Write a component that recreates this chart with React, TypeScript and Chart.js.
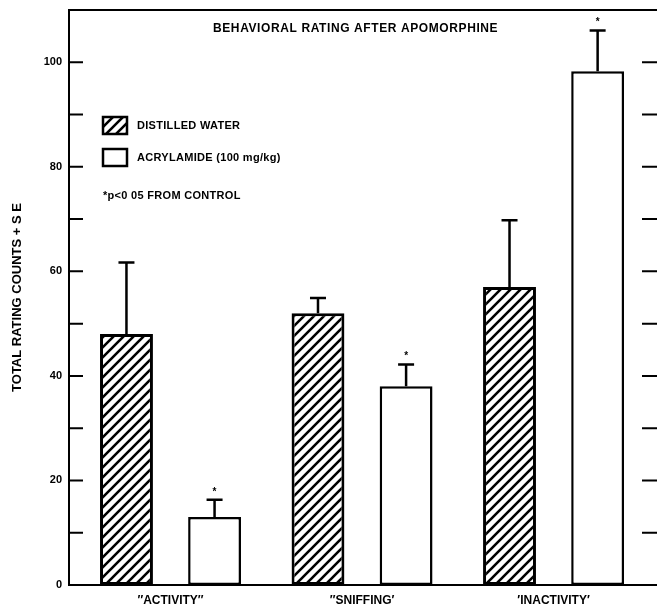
import React, { useEffect, useRef } from "react";
import { Chart, registerables } from "chart.js";

Chart.register(...registerables);

const categories = ["\u2033ACTIVITY\u2033", "\u2033SNIFFING\u2032", "\u2032INACTIVITY\u2032"];
const waterValues = [48, 52, 57];
const waterErrors = [13.7, 2.9, 12.8];
const acrylValues = [13, 38, 98.3];
const acrylErrors = [3.3, 4.2, 7.8];
const waterSignificant = [false, false, false];
const acrylSignificant = [true, true, true];
const yLabelTicks = [0, 20, 40, 60, 80, 100];

const FONT = "'Liberation Sans', Arial, Helvetica, sans-serif";

function makeHatch(ctx: CanvasRenderingContext2D) {
  const s = 10;
  const c = document.createElement("canvas");
  c.width = s;
  c.height = s;
  const g = c.getContext("2d")!;
  g.fillStyle = "#fff";
  g.fillRect(0, 0, s, s);
  g.strokeStyle = "#000";
  g.lineWidth = 2.6;
  g.beginPath();
  g.moveTo(-1, s + 1);
  g.lineTo(s + 1, -1);
  g.moveTo(-s / 2 - 1, s / 2 + 1);
  g.lineTo(s / 2 + 1, -s / 2 - 1);
  g.moveTo(s / 2 - 1, s * 1.5 + 1);
  g.lineTo(s * 1.5 + 1, s / 2 - 1);
  g.stroke();
  return ctx.createPattern(c, "repeat")!;
}

export default function App() {
  const ref = useRef<HTMLCanvasElement | null>(null);

  useEffect(() => {
    document.body.style.margin = "0";
    const canvas = ref.current!;
    const ctx = canvas.getContext("2d")!;
    const hatch = makeHatch(ctx);

    const errorPlugin = {
      id: "errorBars",
      afterDatasetsDraw(chart: any) {
        const c = chart.ctx as CanvasRenderingContext2D;
        const y = chart.scales.y;
        const sets = [
          { v: waterValues, e: waterErrors, s: waterSignificant },
          { v: acrylValues, e: acrylErrors, s: acrylSignificant },
        ];
        c.save();
        c.strokeStyle = "#000";
        c.fillStyle = "#000";
        c.lineWidth = 2.5;
        sets.forEach((set, d) => {
          const meta = chart.getDatasetMeta(d);
          meta.data.forEach((bar: any, i: number) => {
            const top = y.getPixelForValue(set.v[i]);
            const cap = y.getPixelForValue(set.v[i] + set.e[i]);
            c.beginPath();
            c.moveTo(bar.x, top);
            c.lineTo(bar.x, cap);
            c.moveTo(bar.x - 8, cap);
            c.lineTo(bar.x + 8, cap);
            c.stroke();
            if (set.s[i]) {
              c.font = `bold 10px ${FONT}`;
              c.textAlign = "center";
              c.textBaseline = "middle";
              c.fillText("*", bar.x, cap - 8);
            }
          });
        });
        c.restore();
      },
    };

    const framePlugin = {
      id: "frame",
      afterDraw(chart: any) {
        const c = chart.ctx as CanvasRenderingContext2D;
        const a = chart.chartArea;
        const y = chart.scales.y;
        c.save();
        c.strokeStyle = "#000";
        c.lineWidth = 2;
        c.beginPath();
        c.moveTo(a.left - 1, a.top);
        c.lineTo(a.right, a.top);
        c.stroke();
        y.ticks.forEach((t: any) => {
          if (t.value <= 0 || t.value >= 110) return;
          const py = y.getPixelForValue(t.value);
          c.beginPath();
          c.moveTo(a.left, py);
          c.lineTo(a.left + 14, py);
          c.moveTo(a.right - 15, py);
          c.lineTo(a.right, py);
          c.stroke();
        });

        // title
        c.fillStyle = "#000";
        c.font = `bold 12px ${FONT}`;
        (c as any).letterSpacing = "0.6px";
        c.textAlign = "left";
        c.textBaseline = "middle";
        c.fillText("BEHAVIORAL RATING AFTER APOMORPHINE", 213, 29);

        // legend
        (c as any).letterSpacing = "0.3px";
        c.font = `bold 11px ${FONT}`;
        const bx = 103;
        c.lineWidth = 2.5;
        c.fillStyle = hatch;
        c.fillRect(bx, 117, 24, 17);
        c.strokeRect(bx, 117, 24, 17);
        c.fillStyle = "#fff";
        c.fillRect(bx, 149, 24, 17);
        c.strokeRect(bx, 149, 24, 17);
        c.fillStyle = "#000";
        c.textAlign = "left";
        c.fillText("DISTILLED WATER", 137, 126);
        c.fillText("ACRYLAMIDE (100 mg/kg)", 137, 158);
        c.fillText("*p<0 05 FROM CONTROL", bx, 196);
        c.restore();
      },
    };

    const chart = new Chart(ctx, {
      type: "bar",
      data: {
        datasets: [
          {
            label: "DISTILLED WATER",
            data: waterValues.map((v, i) => ({ x: i, y: v })),
            backgroundColor: hatch,
            borderColor: "#000",
            borderWidth: 3,
            borderSkipped: false,
          },
          {
            label: "ACRYLAMIDE (100 mg/kg)",
            data: acrylValues.map((v, i) => ({ x: i, y: v })),
            backgroundColor: "#fff",
            borderColor: "#000",
            borderWidth: 2.5,
            borderSkipped: false,
          },
        ],
      },
      options: {
        responsive: false,
        animation: false,
        layout: { padding: { top: 10, left: 0, right: 0, bottom: 0 } },
        datasets: { bar: { categoryPercentage: 0.92, barPercentage: 0.6 } } as any,
        plugins: {
          legend: { display: false },
          tooltip: { enabled: false },
          title: { display: false },
        },
        scales: {
          x: {
            type: "linear",
            min: -0.53,
            max: 2.54,
            offset: false,
            grid: { display: false, drawTicks: false },
            border: { display: true, color: "#000", width: 2 },
            afterBuildTicks: (s: any) => {
              s.ticks = categories.map((_, i) => ({ value: i }));
            },
            afterFit: (s: any) => {
              s.height = 21;
              s.paddingLeft = 0;
              s.paddingRight = 0;
            },
            ticks: {
              autoSkip: false,
              maxRotation: 0,
              padding: 8,
              color: "#000",
              font: { family: FONT, size: 12, weight: "bold" },
              callback: (v: any) => categories[v as number] ?? "",
            },
          },
          y: {
            type: "linear",
            min: 0,
            max: 110,
            grid: { display: false, drawTicks: false },
            border: { display: true, color: "#000", width: 2 },
            afterFit: (s: any) => {
              s.width = 69;
              s.paddingTop = 0;
              s.paddingBottom = 0;
            },
            ticks: {
              stepSize: 10,
              padding: 7,
              color: "#000",
              font: { family: FONT, size: 11, weight: "bold" },
              callback: (v: any) => (yLabelTicks.includes(v as number) ? String(v) : ""),
            },
            title: {
              display: true,
              text: "TOTAL RATING COUNTS + S E",
              color: "#000",
              font: { family: FONT, size: 13, weight: "bold" },
              padding: { top: 10, bottom: 0 },
            },
          },
        },
      },
      plugins: [errorPlugin, framePlugin],
    });

    return () => chart.destroy();
  }, []);

  return (
    <div style={{ width: 657, height: 606 }}>
      <canvas ref={ref} width={657} height={606} style={{ display: "block" }} />
    </div>
  );
}
